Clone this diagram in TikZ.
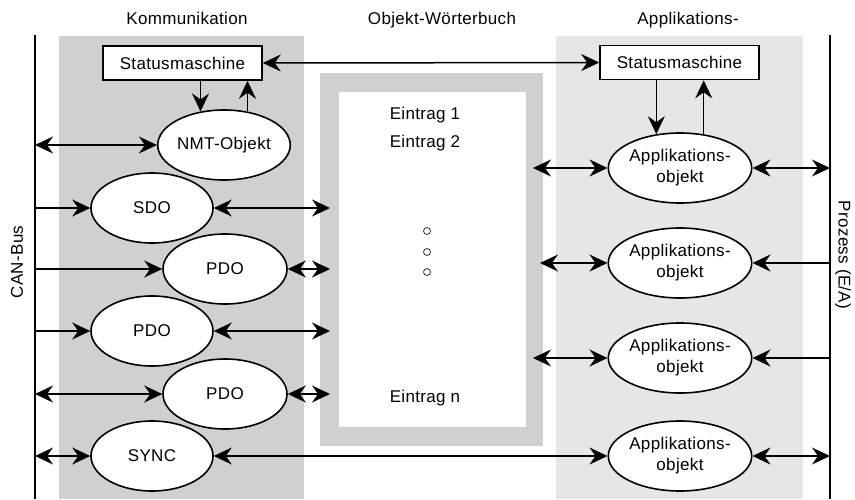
\documentclass[tikz,border=0pt]{standalone}
\usepackage{fontspec}
\setmainfont{Liberation Sans}[LetterSpace=2]
\usetikzlibrary{shapes.geometric,arrows.meta}
\definecolor{grayA}{RGB}{208,208,208}
\definecolor{grayB}{RGB}{230,230,230}
\tikzset{
  conn/.style={line width=1.5pt, -{Stealth[length=18pt,width=17pt,inset=6pt]}},
  dconn/.style={line width=1.5pt, {Stealth[length=18pt,width=17pt,inset=6pt]}-{Stealth[length=18pt,width=17pt,inset=6pt]}},
  obj/.style={ellipse, draw, line width=1.6pt, fill=white, inner sep=0pt,
    minimum width=122pt, minimum height=70pt, align=center,
    font=\fontsize{17}{21}\selectfont},
  wideobj/.style={obj, minimum width=124pt},
  statebox/.style={draw, line width=1.6pt, fill=white, minimum width=159pt,
    minimum height=34pt, inner sep=0pt, font=\fontsize{17}{21}\selectfont},
  label/.style={inner sep=0pt, font=\fontsize{17}{21}\selectfont},
  bus/.style={line width=2pt},
  dot/.style={circle, draw=black!80, line width=0.8pt, minimum size=7pt, inner sep=0pt}
}
\begin{document}
\begin{tikzpicture}[x=1pt,y=-1pt]
\useasboundingbox (0,0) rectangle (855,499);
% background regions
\fill[grayA] (59,36) rectangle (304,499);
\fill[grayB] (556,36) rectangle (803,499);
\node[fill=grayA, minimum width=223pt, minimum height=373pt, inner sep=0pt] (frame) at (431.5,259.5) {};
\node[fill=white, minimum width=187pt, minimum height=335pt, inner sep=0pt] (dict) at (432.5,259.5) {};
% bus lines
\coordinate (canTop) at (35,35);
\coordinate (canBot) at (35,499);
\coordinate (proTop) at (830,35);
\coordinate (proBot) at (830,499);
\draw[bus] (canTop) -- (canBot);
\draw[bus] (proTop) -- (proBot);
% headers
\node[label, anchor=base] (hK) at (187,24) {Kommunikation};
\node[label, anchor=base] (hO) at (442,24) {Objekt-Wörterbuch};
\node[label, anchor=base] (hA) at (688,24) {Applikations-};
\node[label, rotate=90] (can) at (17,262) {CAN-Bus};
\node[label, rotate=-90] (proz) at (843,255) {Prozess (E/A)};
% dictionary entries
\node[label, anchor=base] (e1) at (425,119) {Eintrag 1};
\node[label, anchor=base] (e2) at (425,147) {Eintrag 2};
\node[label, anchor=base] (en) at (425,402) {Eintrag n};
\node[dot] (d1) at (427,231) {};
\node[dot] (d2) at (427,252) {};
\node[dot] (d3) at (427,272) {};
% state machines
\node[statebox] (sm1) at (182.5,63) {Statusmaschine};
\node[statebox] (sm2) at (679.5,62.5) {Statusmaschine};
% communication objects
\node[obj] (nmt) at (224,145) {NMT-Objekt};
\node[obj] (sdo) at (152,208) {SDO};
\node[wideobj] (pdo1) at (225,269) {PDO};
\node[obj] (pdo2) at (152,331) {PDO};
\node[wideobj] (pdo3) at (225,394) {PDO};
\node[obj] (sync) at (152,456) {SYNC};
% application objects
\node[wideobj] (app1) at (680,168) {Applikations-\\objekt};
\node[wideobj] (app2) at (680,263) {Applikations-\\objekt};
\node[wideobj] (app3) at (680,358) {Applikations-\\objekt};
\node[wideobj] (app4) at (680,456) {Applikations-\\objekt};
% free ends
\coordinate (bN) at (35,145);
\coordinate (bS) at (35,208);
\coordinate (bP1) at (35,269);
\coordinate (bP2) at (35,331);
\coordinate (bP3) at (35,394);
\coordinate (bY) at (35,456);
\coordinate (dS) at (330,208);
\coordinate (dP1) at (330,269);
\coordinate (dP2) at (330,331);
\coordinate (dP3) at (330,394);
\coordinate (dA1) at (533,168);
\coordinate (dA2) at (540,263);
\coordinate (dA3) at (533,358);
\coordinate (pA1) at (830,168);
\coordinate (pA2) at (830,263);
\coordinate (pA3) at (830,358);
\coordinate (pA4) at (830,456);
% connectors
\draw[dconn] (sm1.east) -- (sm2.west);
\draw[conn] (sm1.south -| nmt.125) -- (nmt.125);
\draw[conn] (nmt.55) -- (nmt.55 |- sm1.south);
\draw[conn] (sm2.south -| app1.125) -- (app1.125);
\draw[conn] (app1.55) -- (app1.55 |- sm2.south);
\draw[dconn] (bN) -- (nmt.west);
\draw[conn] (bS) -- (sdo.west);
\draw[dconn] (sdo.east) -- (dS);
\draw[conn] (bP1) -- (pdo1.west);
\draw[dconn] (pdo1.east) -- (dP1);
\draw[conn] (bP2) -- (pdo2.west);
\draw[dconn] (pdo2.east) -- (dP2);
\draw[dconn] (bP3) -- (pdo3.west);
\draw[dconn] (pdo3.east) -- (dP3);
\draw[dconn] (bY) -- (sync.west);
\draw[dconn] (sync.east) -- (app4.west);
\draw[dconn] (dA1) -- (app1.west);
\draw[dconn] (app1.east) -- (pA1);
\draw[dconn] (dA2) -- (app2.west);
\draw[conn] (pA2) -- (app2.east);
\draw[dconn] (dA3) -- (app3.west);
\draw[conn] (pA3) -- (app3.east);
\draw[dconn] (app4.east) -- (pA4);
\end{tikzpicture}
\end{document}
